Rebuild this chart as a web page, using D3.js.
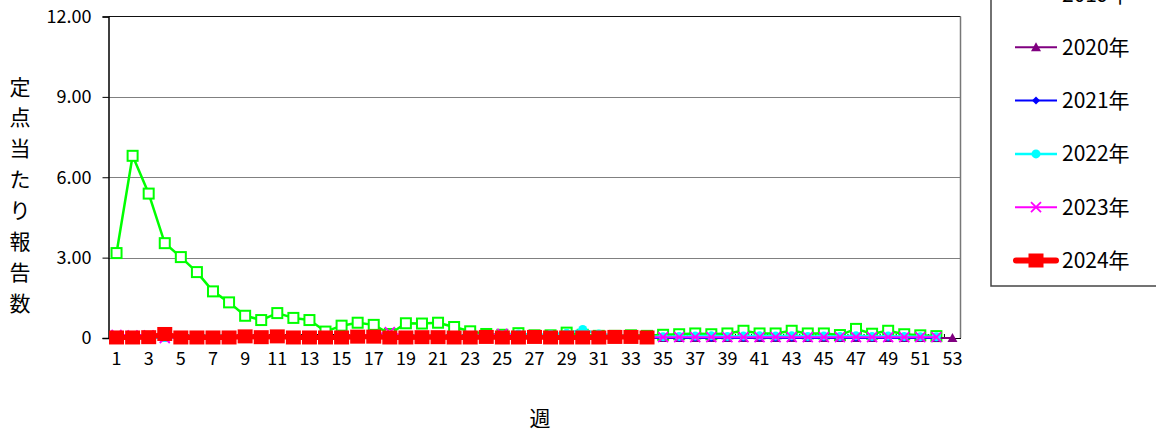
<!DOCTYPE html>
<html><head><meta charset="utf-8">
<script src="https://cdn.jsdelivr.net/npm/d3@7/dist/d3.min.js"></script>
<style>
html,body{margin:0;padding:0;background:#fff;}
svg{display:block;font-family:"Noto Sans CJK JP","Noto Sans",sans-serif;}
</style></head>
<body>
<svg id="chart" width="1156" height="435"></svg>
<script>
const weeks = ["1","2","3","4","5","6","7","8","9","10","11","12","13","14","15","16","17","18","19","20","21","22","23","24","25","26","27","28","29","30","31","32","33","34","35","36","37","38","39","40","41","42","43","44","45","46","47","48","49","50","51","52","53"];
const yTicks = [0, 3, 6, 9, 12];
const yTickLabels = ["0", "3.00", "6.00", "9.00", "12.00"];
const seriesNames = ["2019年", "2020年", "2021年", "2022年", "2023年", "2024年"];

const v2019 = [3.17,6.80,5.39,3.54,3.02,2.46,1.74,1.33,0.83,0.67,0.93,0.75,0.67,0.24,0.46,0.57,0.49,0.15,0.55,0.54,0.57,0.41,0.25,0.15,0.12,0.18,0.10,0.10,0.20,0.12,0.08,0.08,0.10,0.08,0.12,0.14,0.17,0.14,0.17,0.27,0.17,0.17,0.27,0.17,0.17,0.11,0.34,0.16,0.27,0.14,0.10,0.07];
const v2020 = [0.03,0.02,0.03,0.02,0.02,0.02,0.01,0.01,0.02,0.01,0.01,0.01,0.00,0.00,0.00,0.00,0.00,0.00,0.00,0.00,0.00,0.00,0.00,0.00,0.00,0.00,0.00,0.00,0.00,0.00,0.00,0.00,0.00,0.00,0.00,0.00,0.00,0.00,0.00,0.00,0.00,0.00,0.00,0.00,0.00,0.00,0.00,0.00,0.00,0.00,0.00,0.00,0.00];
const v2021 = [0.00,0.00,0.00,0.00,0.00,0.00,0.00,0.00,0.00,0.00,0.00,0.00,0.00,0.00,0.00,0.00,0.00,0.00,0.00,0.00,0.00,0.00,0.00,0.00,0.00,0.00,0.00,0.00,0.00,0.00,0.00,0.00,0.00,0.00,0.01,0.00,0.01,0.00,0.01,0.00,0.01,0.00,0.01,0.00,0.01,0.00,0.01,0.00,0.01,0.00,0.01,0.00];
const v2022 = [0.02,0.02,0.02,0.02,0.02,0.02,0.02,0.02,0.03,0.03,0.02,0.03,0.03,0.03,0.04,0.05,0.05,0.05,0.05,0.05,0.06,0.06,0.08,0.10,0.12,0.15,0.12,0.14,0.18,0.32,0.15,0.10,0.08,0.06,0.05,0.06,0.07,0.08,0.06,0.07,0.08,0.07,0.08,0.06,0.07,0.06,0.08,0.06,0.07,0.06,0.05,0.05];
const v2023 = [0.12,0.10,0.10,0.00,0.04,0.04,0.04,0.04,0.05,0.05,0.05,0.05,0.05,0.06,0.08,0.10,0.12,0.22,0.06,0.05,0.05,0.06,0.08,0.10,0.15,0.08,0.06,0.05,0.05,0.04,0.04,0.04,0.04,0.03,0.03,0.03,0.03,0.03,0.03,0.03,0.03,0.03,0.03,0.03,0.03,0.03,0.03,0.03,0.03,0.03,0.03,0.03];
const v2024 = [0.02,0.02,0.03,0.15,0.02,0.02,0.02,0.02,0.06,0.03,0.06,0.02,0.02,0.02,0.02,0.05,0.05,0.02,0.02,0.03,0.03,0.02,0.02,0.04,0.02,0.02,0.04,0.02,0.02,0.02,0.02,0.04,0.04,0.02];

const svg = d3.select("#chart");
const L = 108.5, R = 960.5, T = 16.5, B = 338;
const x = d3.scaleBand().domain(weeks).range([L, R]);
const y = d3.scaleLinear().domain([0, 12]).range([B, T]);
const cx = w => x(w) + x.bandwidth() / 2;

// gridlines
svg.append("g").selectAll("line").data(yTicks.filter(t => t > 0 && t < 12)).join("line")
  .attr("x1", L).attr("x2", R).attr("y1", d => Math.round(y(d)) + 0.5).attr("y2", d => Math.round(y(d)) + 0.5)
  .attr("stroke", "#000").attr("stroke-width", 1).attr("stroke-dasharray", "1,1");
// frame top & right
svg.append("line").attr("x1", L).attr("x2", R).attr("y1", y(12)).attr("y2", y(12)).attr("stroke", "#111").attr("stroke-width", 1.2);
svg.append("line").attr("x1", R).attr("x2", R).attr("y1", T).attr("y2", B).attr("stroke", "#777").attr("stroke-width", 1.5);

// y axis
const yAxis = d3.axisLeft(y).tickValues(yTicks).tickSize(6).tickFormat((d, i) => yTickLabels[i]);
const ga = svg.append("g").attr("transform", `translate(${L},0)`).call(yAxis);
ga.select(".domain").attr("stroke", "#000").attr("stroke-width", 1.5);
ga.selectAll(".tick line").attr("stroke", "#000");
ga.selectAll(".tick text").attr("x", -17).attr("font-size", 18).attr("fill", "#000")
  .attr("font-family", "'Noto Sans CJK JP',sans-serif");

// x axis
const xAxis = d3.axisBottom(x).tickSize(0).tickFormat(d => (+d % 2 === 1) ? d : "");
const gx = svg.append("g").attr("transform", `translate(0,${B})`).call(xAxis);
gx.select(".domain").attr("stroke", "#000").attr("stroke-width", 1.2);
gx.selectAll(".tick text").attr("y", 14).attr("font-size", 18).attr("fill", "#000")
  .attr("font-family", "'Noto Sans CJK JP',sans-serif");
// category boundary tick marks (inside)
svg.append("g").selectAll("line").data(weeks.slice(1)).join("line")
  .attr("x1", d => x(d)).attr("x2", d => x(d)).attr("y1", B).attr("y2", B - 4)
  .attr("stroke", "#000").attr("stroke-width", 1);

// series definitions
const series = [
  {name: seriesNames[0], values: v2019, color: "#00ff00", width: 2.5, marker: "osquare"},
  {name: seriesNames[1], values: v2020, color: "#800080", width: 2, marker: "triangle"},
  {name: seriesNames[2], values: v2021, color: "#0000ff", width: 2, marker: "diamond"},
  {name: seriesNames[3], values: v2022, color: "#00ffff", width: 2.5, marker: "circle"},
  {name: seriesNames[4], values: v2023, color: "#ff00ff", width: 2, marker: "cross"},
  {name: seriesNames[5], values: v2024, color: "#ff0000", width: 5, marker: "bigsquare"}
];

function drawMarker(g, type, color, px, py) {
  if (type === "osquare") {
    g.append("rect").attr("x", px - 5).attr("y", py - 5).attr("width", 10).attr("height", 10)
      .attr("fill", "#fff").attr("stroke", color).attr("stroke-width", 2);
  } else if (type === "triangle") {
    g.append("path").attr("d", `M${px},${py-5}L${px+5},${py+4}L${px-5},${py+4}Z`).attr("fill", color);
  } else if (type === "diamond") {
    g.append("path").attr("d", `M${px},${py-4}L${px+4},${py}L${px},${py+4}L${px-4},${py}Z`).attr("fill", color);
  } else if (type === "circle") {
    g.append("circle").attr("cx", px).attr("cy", py).attr("r", 4.5).attr("fill", color);
  } else if (type === "cross") {
    g.append("path").attr("d", `M${px-5},${py-5}L${px+5},${py+5}M${px+5},${py-5}L${px-5},${py+5}`)
      .attr("stroke", color).attr("stroke-width", 1.8).attr("fill", "none");
  } else if (type === "bigsquare") {
    g.append("rect").attr("x", px - 7.5).attr("y", py - 7).attr("width", 15).attr("height", 14).attr("fill", color);
  }
}

const line = d3.line().x((d, i) => cx(weeks[i])).y(d => y(d));
series.forEach(s => {
  const g = svg.append("g");
  g.append("path").datum(s.values).attr("d", line).attr("fill", "none")
    .attr("stroke", s.color).attr("stroke-width", s.width).attr("stroke-linejoin", "round");
  s.values.forEach((v, i) => drawMarker(g, s.marker, s.color, cx(weeks[i]), y(v)));
});

// axis titles
const yTitle = "定点当たり報告数".split("");
svg.append("g").selectAll("text").data(yTitle).join("text")
  .attr("x", 20).attr("y", (d, i) => 87 + i * 30.9).attr("dy", "0.36em")
  .attr("text-anchor", "middle").attr("font-size", 21).attr("fill", "#000").text(d => d);
svg.append("text").attr("x", 540).attr("y", 418).attr("dy", "0.36em").attr("text-anchor", "middle")
  .attr("font-size", 21).attr("fill", "#000").text("週");

// legend
const lg = svg.append("g");
lg.append("rect").attr("x", 991).attr("y", -60).attr("width", 200).attr("height", 346)
  .attr("fill", "#fff").attr("stroke", "#444").attr("stroke-width", 1.5);
series.forEach((s, i) => {
  const ly = -6 + i * 53.3;
  if (s.marker === "bigsquare") {
    lg.append("line").attr("x1", 1016).attr("x2", 1056).attr("y1", ly).attr("y2", ly)
      .attr("stroke", s.color).attr("stroke-width", 6).attr("stroke-linecap", "round");
  } else {
    lg.append("line").attr("x1", 1015).attr("x2", 1057).attr("y1", ly).attr("y2", ly)
      .attr("stroke", s.color).attr("stroke-width", s.width);
  }
  drawMarker(lg, s.marker, s.color, 1036, ly);
  lg.append("text").attr("x", 1062).attr("y", ly).attr("dy", "0.36em").attr("font-size", 21)
    .attr("fill", "#000").text(s.name);
});
</script>
</body></html>
